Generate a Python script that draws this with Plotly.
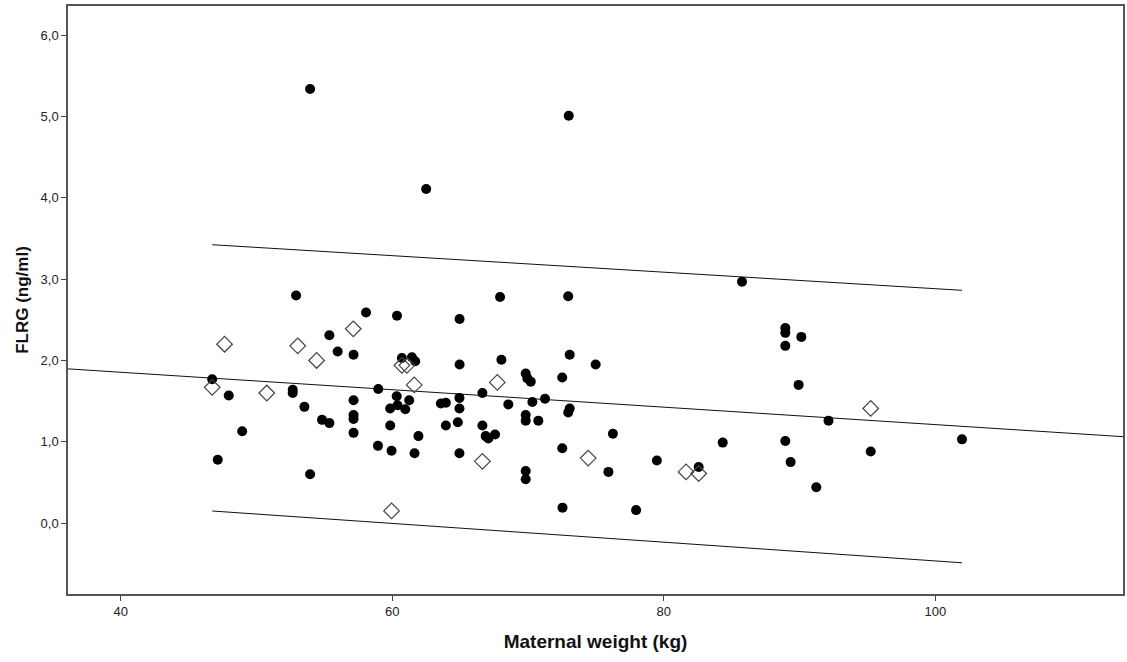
import plotly.graph_objects as go

# Filled circles (main group)
weight_a = [53.95, 73.0, 62.5, 85.76, 52.92, 67.94, 72.96, 58.07, 60.35, 64.96,
            55.37, 55.98, 57.15, 60.71, 61.45, 61.69, 64.96, 68.04, 73.07, 74.98,
            69.83, 69.95, 70.20, 72.52, 46.74, 47.96, 52.67, 52.67, 53.53, 54.83,
            55.37, 57.15, 57.15, 57.15, 57.15, 58.97, 60.33, 60.39, 59.85, 60.96,
            61.25, 59.85, 48.95, 58.95, 59.95, 47.15, 53.95, 66.64, 64.95, 64.95,
            63.58, 63.95, 68.55, 70.32, 71.25, 73.07, 72.96, 69.83, 69.83, 70.76,
            64.83, 63.95, 66.64, 67.57, 67.08, 66.88, 61.93, 76.25, 61.64, 64.95,
            72.52, 69.83, 69.83, 75.92, 72.54, 77.96, 88.95, 88.95, 90.13, 88.95,
            89.93, 92.13, 84.34, 88.95, 89.34, 79.49, 82.57, 91.23, 101.96, 95.24]
flrg_a = [5.34, 5.01, 4.11, 2.97, 2.80, 2.78, 2.79, 2.59, 2.55, 2.51,
          2.31, 2.11, 2.07, 2.03, 2.04, 1.99, 1.95, 2.01, 2.07, 1.95,
          1.84, 1.78, 1.74, 1.79, 1.77, 1.57, 1.64, 1.60, 1.43, 1.27,
          1.23, 1.51, 1.33, 1.28, 1.11, 1.65, 1.56, 1.45, 1.41, 1.40,
          1.51, 1.20, 1.13, 0.95, 0.89, 0.78, 0.60, 1.60, 1.54, 1.41,
          1.47, 1.48, 1.46, 1.49, 1.53, 1.41, 1.36, 1.33, 1.26, 1.26,
          1.24, 1.20, 1.20, 1.09, 1.04, 1.07, 1.07, 1.10, 0.86, 0.86,
          0.92, 0.64, 0.54, 0.63, 0.19, 0.16, 2.40, 2.34, 2.29, 2.18,
          1.70, 1.26, 0.99, 1.01, 0.75, 0.77, 0.69, 0.44, 1.03, 0.88]

# Open diamonds (second group)
weight_b = [46.74, 47.65, 50.76, 53.04, 54.43, 57.13, 60.71, 61.08, 61.62, 67.74,
            66.64, 59.95, 74.43, 81.64, 82.57, 95.24]
flrg_b = [1.67, 2.20, 1.60, 2.18, 2.00, 2.39, 1.94, 1.94, 1.70, 1.73,
          0.76, 0.15, 0.80, 0.63, 0.61, 1.41]

# Fit line (across the axis) and 95% prediction interval lines (data range)
fit_x = [36.12, 113.82]
fit_y = [1.897, 1.063]
upper_x = [46.74, 101.96]
upper_y = [3.424, 2.863]
lower_x = [46.74, 101.96]
lower_y = [0.149, -0.488]

x_range = [36.12, 113.82]
y_range = [-0.872, 6.36]
x_ticks = [40, 60, 80, 100]
y_ticks = [0, 1, 2, 3, 4, 5, 6]

fig = go.Figure()
for lx, ly in [(fit_x, fit_y), (upper_x, upper_y), (lower_x, lower_y)]:
    fig.add_trace(go.Scatter(x=lx, y=ly, mode="lines",
                             line=dict(color="#111111", width=1),
                             showlegend=False, hoverinfo="skip"))

fig.add_trace(go.Scatter(x=weight_a, y=flrg_a, mode="markers",
                         marker=dict(symbol="circle", size=10, color="black",
                                     line=dict(width=0)),
                         showlegend=False))
fig.add_trace(go.Scatter(x=weight_b, y=flrg_b, mode="markers",
                         marker=dict(symbol="diamond-open", size=12, color="#444444",
                                     line=dict(width=1.2, color="#444444")),
                         showlegend=False))

font_family = "Liberation Sans, Arial, sans-serif"
fig.update_layout(
    width=1127, height=662,
    margin=dict(l=68, r=2, t=6, b=68),
    paper_bgcolor="white", plot_bgcolor="white",
    separators=", ",
    font=dict(family=font_family, size=13, color="#222222"),
    xaxis=dict(range=x_range, tickvals=x_ticks, ticks="outside", ticklen=5,
               tickcolor="#444444", showgrid=False, zeroline=False,
               showline=True, linecolor="#555555", linewidth=1.5, mirror=True,
               tickfont=dict(size=13, color="#222222"),
               title=dict(text="<b>Maternal weight (kg)</b>",
                          font=dict(size=19, color="#111111"), standoff=16)),
    yaxis=dict(range=y_range, tickvals=y_ticks, tickformat=".1f", ticks="outside",
               ticklen=5, tickcolor="#444444", showgrid=False, zeroline=False,
               showline=True, linecolor="#555555", linewidth=1.5, mirror=True,
               tickfont=dict(size=13, color="#222222"),
               title=dict(text="<b>FLRG (ng/ml)</b>",
                          font=dict(size=17, color="#111111"), standoff=8)),
)

fig.write_html("out.html")
